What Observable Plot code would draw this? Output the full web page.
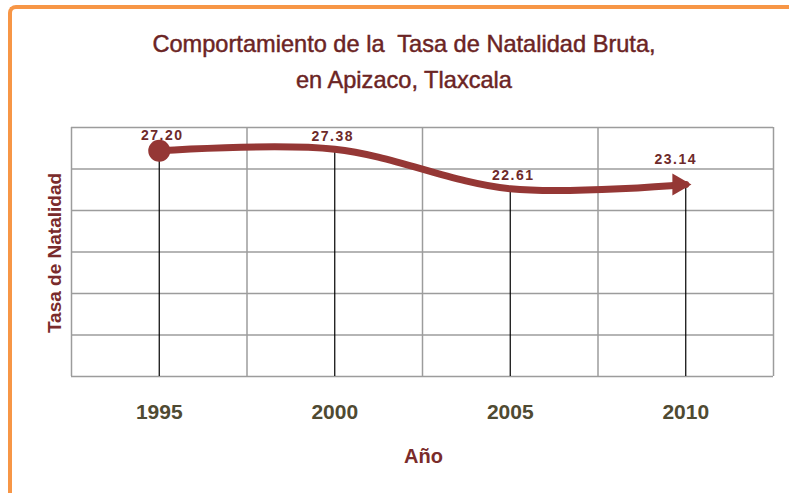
<!DOCTYPE html>
<html>
<head>
<meta charset="utf-8">
<script src="https://cdn.jsdelivr.net/npm/d3@7"></script>
<script src="https://cdn.jsdelivr.net/npm/@observablehq/plot@0.6"></script>
<style>
  html, body { margin: 0; padding: 0; background: #fff; width: 789px; height: 493px; overflow: hidden; }
  #frame { position: absolute; left: 8px; top: 5px; width: 800px; height: 520px;
           border-left: 4px solid #F79646; border-top: 4px solid #F79646; border-top-left-radius: 8px; box-sizing: border-box; }
  #title { position: absolute; left: 0; top: 26px; width: 808px; text-align: center;
           font-family: "Liberation Sans", Arial, sans-serif; font-size: 23.6px; line-height: 36px;
           color: #6b2424; white-space: pre; -webkit-text-stroke: 0.45px #6b2424; }
  #chart { position: absolute; left: 0; top: 0; }
</style>
</head>
<body>
<div id="frame"></div>
<div id="chart"></div>
<div id="title">Comportamiento de la  Tasa de Natalidad Bruta,
en Apizaco, Tlaxcala</div>
<script>
const years = [1995, 2000, 2005, 2010];
const rates = [27.20, 27.38, 22.61, 23.14];
const yTicks = [0, 5, 10, 15, 20, 25, 30];
const yLabel = "Tasa de Natalidad";
const xLabel = "Año";

const data = years.map((year, i) => ({year, rate: rates[i]}));
const half = (years[1] - years[0]) / 2;
const xBounds = [...years.map(y => y - half), years[years.length - 1] + half];

const lineColor = "#953735";
const gridColor = "#9c9c9c";
const valStyle = {x: "year", y: "rate", text: d => d.rate.toFixed(2), lineAnchor: "bottom",
  fontSize: 14, fontWeight: "bold", fill: "#6e2a2a"};

const chart = Plot.plot({
  width: 789,
  height: 493,
  marginLeft: 71,
  marginRight: 16,
  marginTop: 127,
  marginBottom: 117,
  x: {domain: [xBounds[0], xBounds[xBounds.length - 1]], axis: null},
  y: {domain: [0, 30], axis: null},
  style: {fontFamily: "'Liberation Sans', Arial, sans-serif", background: "transparent", overflow: "visible"},
  marks: [
    Plot.ruleY(yTicks, {stroke: gridColor, strokeWidth: 1.5}),
    Plot.ruleX(xBounds, {stroke: gridColor, strokeWidth: 1.5}),
    Plot.axisX(years, {tickSize: 0, tickPadding: 28, tickFormat: "d", fontSize: 21, fontWeight: "bold", fill: "#4f4a32", label: null}),
    Plot.ruleX(data, {x: "year", y1: 0, y2: "rate", stroke: "#000", strokeWidth: 1.2}),
    Plot.line(data, {x: "year", y: "rate", curve: "catmull-rom", stroke: lineColor, strokeWidth: 7}),
    Plot.dot(data.slice(0, 1), {x: "year", y: "rate", r: 11, fill: lineColor}),
    Plot.dot(data.slice(-1), {x: "year", y: "rate", r: 10.5, symbol: "triangle2", rotate: 90, fill: lineColor, dx: -7}),
    Plot.text(data.slice(0, 1), {...valStyle, dy: -11, dx: 3}),
    Plot.text(data.slice(1, 2), {...valStyle, dy: -8, dx: -2}),
    Plot.text(data.slice(2, 3), {...valStyle, dy: -9, dx: 3}),
    Plot.text(data.slice(3), {...valStyle, dy: -20, dx: -10}),
    Plot.text([xLabel], {frameAnchor: "bottom", lineAnchor: "bottom", dy: 86, dx: 1, fontSize: 20, fontWeight: "bold", fill: "#7a2b2b"}),
    Plot.text([yLabel], {frameAnchor: "left", textAnchor: "middle", rotate: -90, lineAnchor: "bottom", dx: -11, dy: 1, fontSize: 19, fontWeight: "bold", fill: "#7a2b2b"})
  ]
});
d3.select(chart).selectAll("text")
  .filter(function() { return /^\d+\.\d\d$/.test(this.textContent); })
  .style("letter-spacing", "1.5px");
document.getElementById("chart").appendChild(chart);
</script>
</body>
</html>
